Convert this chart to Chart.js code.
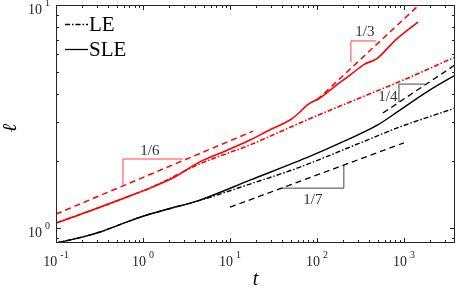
<!DOCTYPE html>
<html>
<head>
<meta charset="utf-8">
<script src="https://cdn.jsdelivr.net/npm/chart.js@4/dist/chart.umd.min.js"></script>
<style>
  html, body { margin: 0; padding: 0; background: #fff; }
  canvas { display: block; }
</style>
</head>
<body>
<canvas id="c" width="457" height="289"></canvas>
<script>
// ---- data (t, ell) ----
const redSleT = [0.1, 0.2, 0.32, 0.6, 1.2, 2.2, 4.5, 9, 17, 30, 49, 62, 77, 108, 160, 240, 350, 490, 800, 1450];
const redSleL = [1.053, 1.16, 1.24, 1.36, 1.51, 1.675, 1.98, 2.22, 2.48, 2.78, 3.05, 3.28, 3.56, 3.83, 4.31, 4.85, 5.42, 5.75, 6.96, 8.39];

const redLeT = [0.1, 0.2, 0.32, 0.6, 1.2, 4.5, 17, 84, 296, 1000, 3900];
const redLeL = [1.053, 1.16, 1.24, 1.36, 1.51, 1.94, 2.36, 3.1, 3.8, 4.62, 5.85];

const blackSleT = [0.1, 0.2, 0.32, 0.6, 1, 2, 4.5, 17, 84, 200, 500, 900, 2000, 3900];
const blackSleL = [0.857, 0.911, 0.96, 1.052, 1.13, 1.22, 1.335, 1.64, 2.1, 2.44, 2.9, 3.38, 4.16, 4.85];

const blackLeT = [0.1, 0.2, 0.32, 0.6, 1, 2, 4.5, 17, 64, 300, 900, 3900];
const blackLeL = [0.857, 0.911, 0.96, 1.052, 1.13, 1.22, 1.33, 1.575, 1.877, 2.39, 2.84, 3.45];

// reference power laws (end points)
const ref16T = [0.1, 18.4],  ref16L = [1.155, 2.72];
const ref13T = [100, 1409],  ref13L = [3.75, 9.8];
const ref14T = [574, 3855],  ref14L = [3.28, 5.38];
const ref17T = [10, 1000],   ref17L = [1.24, 2.41];

// slope triangles
const tri16T = [0.589, 0.589, 2.88], tri16L = [1.56, 2.04, 2.04];
const tri13T = [246, 246, 477],      tri13L = [5.55, 6.9, 6.9];
const tri14T = [877, 877, 1742],     tri14L = [3.67, 4.42, 4.42];
const tri17T = [39.6, 204, 204],     tri17L = [1.51, 1.51, 1.92];

const slopeLabels = ['1/6', '1/3', '1/4', '1/7'];
const slopeLabelT = [1.2, 356, 655, 90];
const slopeLabelL = [2.21, 7.56, 3.87, 1.335];

const xDecades = [-1, 0, 1, 2, 3];
const yDecades = [0, 1];

const X_MIN = 0.1, X_MAX = 3870, Y_MIN = 0.857, Y_MAX = 10;

const RED = '#ff0000';
const SERIF = '"Liberation Serif", "Times New Roman", serif';
const DASH = [6, 4];
const DASHDOT = [5, 2, 1.5, 2];

function pts(xs, ys) { return xs.map((x, i) => ({ x, y: ys[i] })); }

function line(xs, ys, color, width, dash, smooth) {
    return {
        data: pts(xs, ys),
        borderColor: color,
        borderWidth: width,
        borderDash: dash || [],
        pointRadius: 0,
        cubicInterpolationMode: smooth ? 'monotone' : 'default',
        tension: 0,
        fill: false
    };
}

const datasets = [
    line(ref16T, ref16L, RED, 1.5, DASH),
    line(ref13T, ref13L, RED, 1.5, DASH),
    line(ref14T, ref14L, '#000', 1.3, DASH),
    line(ref17T, ref17L, '#000', 1.3, DASH),
    line(redLeT, redLeL, RED, 1.6, DASHDOT, true),
    line(blackLeT, blackLeL, '#000', 1.4, DASHDOT, true),
    line(redSleT, redSleL, RED, 1.6, null, true),
    line(blackSleT, blackSleL, '#000', 1.4, null, true),
    line(tri16T, tri16L, '#ff4040', 1),
    line(tri13T, tri13L, '#ff4040', 1),
    line(tri14T, tri14L, '#444', 1),
    line(tri17T, tri17L, '#444', 1)
];

// frame, inward ticks, power-of-ten labels, titles, legend
const decor = {
    id: 'decor',
    afterDraw(chart) {
        const { ctx, chartArea: a, scales } = chart;
        const xs = scales.x, ys = scales.y;
        ctx.save();
        ctx.strokeStyle = '#262626';
        ctx.lineWidth = 1;
        ctx.strokeRect(a.left + 0.5, a.top + 0.5, a.right - a.left - 1, a.bottom - a.top - 1);

        ctx.beginPath();
        for (let e = -1; e <= 3; e++) {
            for (let k = 1; k <= 9; k++) {
                const v = k * Math.pow(10, e);
                if (v < X_MIN || v > X_MAX) continue;
                const px = Math.round(xs.getPixelForValue(v)) + 0.5;
                const len = k === 1 ? 5 : 3;
                ctx.moveTo(px, a.bottom); ctx.lineTo(px, a.bottom - len);
                ctx.moveTo(px, a.top); ctx.lineTo(px, a.top + len);
            }
        }
        for (let e = -1; e <= 1; e++) {
            for (let k = 1; k <= 9; k++) {
                const v = k * Math.pow(10, e);
                if (v < Y_MIN || v > Y_MAX) continue;
                const py = Math.round(ys.getPixelForValue(v)) + 0.5;
                const len = k === 1 ? 5 : 3;
                ctx.moveTo(a.left, py); ctx.lineTo(a.left + len, py);
                ctx.moveTo(a.right, py); ctx.lineTo(a.right - len, py);
            }
        }
        ctx.stroke();

        // tick labels "10^n"
        ctx.fillStyle = '#262626';
        const big = '14px ' + SERIF, small = '10px ' + SERIF;
        ctx.textBaseline = 'alphabetic';
        ctx.textAlign = 'left';
        xDecades.forEach(e => {
            const px = xs.getPixelForValue(Math.pow(10, e));
            ctx.font = big; const w1 = ctx.measureText('10').width;
            ctx.font = small; const w2 = ctx.measureText(String(e)).width;
            const x0 = px - (w1 + 3 + w2) / 2;
            ctx.font = big; ctx.fillText('10', x0, 266);
            ctx.font = small; ctx.fillText(String(e), x0 + w1 + 3, 258);
        });
        yDecades.forEach(e => {
            const py = ys.getPixelForValue(Math.pow(10, e));
            ctx.font = small; const w2 = ctx.measureText(String(e)).width;
            ctx.font = big; const w1 = ctx.measureText('10').width;
            const xr = 50;
            ctx.fillText('10', xr - w2 - 3 - w1, py + 9);
            ctx.font = small; ctx.fillText(String(e), xr - w2, py + 1);
        });

        // axis titles
        ctx.fillStyle = '#000';
        ctx.font = 'italic 20px ' + SERIF;
        ctx.textAlign = 'center';
        ctx.fillText('t', (a.left + a.right) / 2, 285);
        ctx.save();
        ctx.translate(16, (a.top + a.bottom) / 2 + 4);
        ctx.rotate(-Math.PI / 2);
        ctx.fillText('ℓ', 0, 0);
        ctx.restore();

        // slope labels
        ctx.font = '15px ' + SERIF;
        ctx.fillStyle = '#333';
        ctx.textBaseline = 'middle';
        slopeLabels.forEach((s, i) => {
            ctx.fillText(s, xs.getPixelForValue(slopeLabelT[i]), ys.getPixelForValue(slopeLabelL[i]));
        });

        // legend
        ctx.strokeStyle = '#000';
        ctx.lineWidth = 1.3;
        ctx.setLineDash(DASHDOT);
        ctx.beginPath(); ctx.moveTo(65, 24.5); ctx.lineTo(88, 24.5); ctx.stroke();
        ctx.setLineDash([]);
        ctx.beginPath(); ctx.moveTo(65, 49.5); ctx.lineTo(88, 49.5); ctx.stroke();
        ctx.fillStyle = '#000';
        ctx.font = '21px ' + SERIF;
        ctx.textAlign = 'left';
        ctx.textBaseline = 'alphabetic';
        ctx.fillText('LE', 89, 31);
        ctx.fillText('SLE', 89, 56);
        ctx.restore();
    }
};

new Chart(document.getElementById('c'), {
    type: 'line',
    data: { datasets },
    options: {
        responsive: false,
        animation: false,
        devicePixelRatio: 1,
        layout: { padding: { left: 56, right: 2, top: 5, bottom: 46 } },
        plugins: { legend: { display: false }, tooltip: { enabled: false } },
        scales: {
            x: { type: 'logarithmic', min: X_MIN, max: X_MAX, display: false },
            y: { type: 'logarithmic', min: Y_MIN, max: Y_MAX, display: false }
        }
    },
    plugins: [decor]
});
</script>
</body>
</html>
